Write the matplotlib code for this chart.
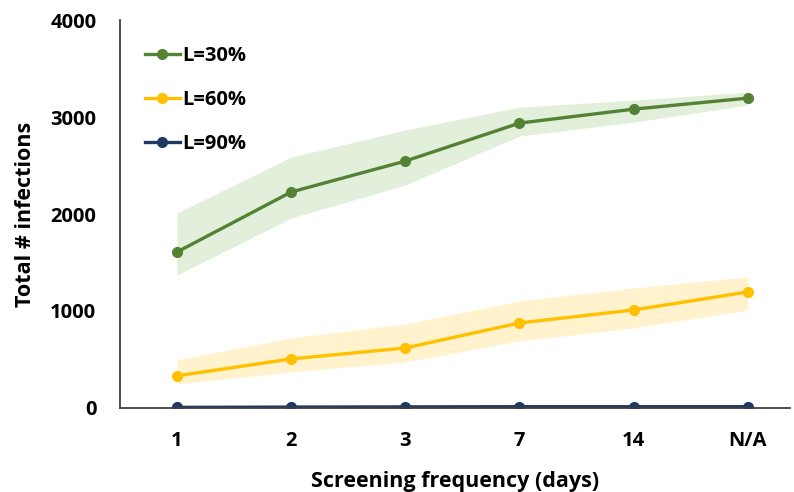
import matplotlib.pyplot as plt

plt.rcParams['font.family'] = ['Open Sans', 'DejaVu Sans']
plt.rcParams['font.weight'] = 'bold'

freq = ["1", "2", "3", "7", "14", "N/A"]

l30 = [1608, 2227, 2546, 2938, 3082, 3196]
l30_lo = [1371, 1959, 2299, 2804, 2948, 3124]
l30_hi = [2010, 2588, 2866, 3103, 3175, 3258]

l60 = [330, 505, 618, 876, 1010, 1196]
l60_lo = [247, 371, 474, 691, 825, 1010]
l60_hi = [495, 722, 866, 1103, 1237, 1351]

l90 = [5, 8, 10, 12, 12, 12]
l90_lo = [0, 2, 3, 4, 4, 4]
l90_hi = [12, 15, 18, 20, 20, 20]

fig = plt.figure(figsize=(7.94, 4.92), dpi=100)
ax = fig.add_axes([0.151, 0.171, 0.844, 0.788])

x = list(range(len(freq)))

# shaded ranges
ax.fill_between(x, l30_lo, l30_hi, color="#e2efda", lw=0)
ax.fill_between(x, l60_lo, l60_hi, color="#fff2cc", lw=0)
ax.fill_between(x, l90_lo, l90_hi, color="#dae3f3", lw=0)

ax.plot(x, l30, color="#548235", lw=2.4, marker="o", ms=7, label="L=30%")
ax.plot(x, l60, color="#ffc000", lw=2.4, marker="o", ms=7, label="L=60%")
ax.plot(x, l90, color="#203864", lw=2.4, marker="o", ms=7, label="L=90%")

ax.set_xlim(-0.5, 5.37)
ax.set_ylim(0, 4000)
ax.set_yticks([0, 1000, 2000, 3000, 4000])
ax.set_xticks(x)
ax.set_xticklabels(freq)
ax.tick_params(length=0, labelsize=14.5)
ax.tick_params(axis="x", pad=17)
ax.tick_params(axis="y", pad=17)
for lab in ax.get_xticklabels() + ax.get_yticklabels():
    lab.set_fontweight("bold")

for s in ["top", "right"]:
    ax.spines[s].set_visible(False)
ax.spines["left"].set_color("#404040")
ax.spines["bottom"].set_color("#404040")
ax.spines["left"].set_linewidth(1.3)
ax.spines["bottom"].set_linewidth(1.3)

ax.set_xlabel("Screening frequency (days)", fontsize=15.5, fontweight="bold", labelpad=14)
ax.set_ylabel("Total # infections", fontsize=15.5, fontweight="bold", labelpad=10)

leg = ax.legend(loc="upper left", frameon=False, fontsize=14.5, handlelength=1.75,
                labelspacing=1.2, handletextpad=0.1, bbox_to_anchor=(0.01, 0.98))
for t in leg.get_texts():
    t.set_fontweight("bold")

fig.savefig("out.png", dpi=100)
